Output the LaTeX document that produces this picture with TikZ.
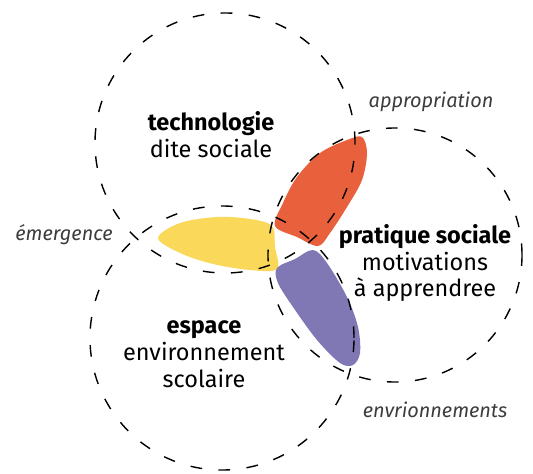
\documentclass[tikz,border=0pt]{standalone}
\usepackage{fontspec}
\setmainfont{Fira Sans}
\usetikzlibrary{positioning}
\definecolor{petalred}{RGB}{232, 96, 60}
\definecolor{petalyellow}{RGB}{249, 216, 90}
\definecolor{petalpurple}{RGB}{128, 119, 181}
\definecolor{labelgray}{RGB}{60, 60, 60}

\tikzset{
  zone/.style={draw=black, line width=1.2pt, dash pattern=on 10pt off 14pt},
  title/.style={align=center, font=\fontsize{20}{23}\selectfont},
  tag/.style={font=\fontsize{17}{20}\selectfont\itshape, text=labelgray},
}

\begin{document}
\begin{tikzpicture}[x=0.03cm, y=-0.03cm]
  \useasboundingbox (0,0) rectangle (533,473);

  % --- petals (pairwise overlaps) ---
  \fill[petalred] plot[smooth cycle, tension=0.55] coordinates
    {(275,226) (283,203) (297,177) (320,153) (347,140) (362,137) (367,153)
     (362,180) (347,207) (330,233) (318,246) (297,237)};
  \fill[petalyellow] plot[smooth cycle, tension=0.55] coordinates
    {(158,238) (180,223) (217,217) (250,219) (272,226) (275,247) (277,269)
     (250,270) (213,264) (180,253)};
  \fill[petalpurple] plot[smooth cycle, tension=0.55] coordinates
    {(277,268) (295,259) (313,250) (327,263) (347,297) (358,327) (360,353)
     (353,365) (340,363) (317,340) (293,307) (278,283)};

  % --- the three dashed zones ---
  \draw[zone] (225,143) circle[radius=3.9cm];
  \draw[zone] (222,338) circle[radius=3.96cm];
  \draw[zone] (395,255) circle[radius=3.81cm];

  % --- zone titles ---
  \node[title] (techno) at (211,135) {\textbf{technologie}\\dite sociale};
  \node[title] (pratique) at (425,263) {\textbf{pratique sociale}\\motivations\\à apprendree};
  \node[title] (espace) at (204,354) {\textbf{espace}\\environnement\\scolaire};

  % --- overlap labels ---
  \node[tag] (emergence) at (64,235) {émergence};
  \node[tag] (appropriation) at (431,102) {appropriation};
  \node[tag] (envir) at (435,410) {envrionnements};
\end{tikzpicture}
\end{document}
